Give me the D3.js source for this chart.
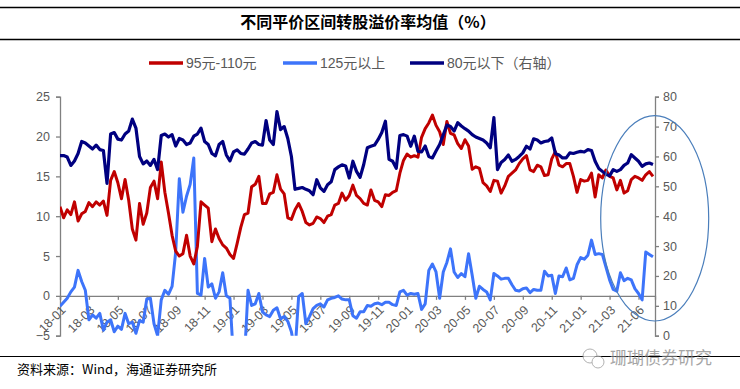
<!DOCTYPE html>
<html>
<head>
<meta charset="utf-8">
<script src="https://cdn.jsdelivr.net/npm/d3@7"></script>
<style>
  body { margin: 0; background: #fff; }
  svg { display: block; font-family: "Liberation Sans", Arial, "Noto Sans CJK SC", sans-serif; }
</style>
</head>
<body>
<div id="chart"></div>
<script>
const svgWidth = 740
const svgHeight = 389

// months since 2018-01, one point every quarter month
const step = 0.25
const tickMonths = [0, 2, 4, 6, 8, 10, 12, 14, 16, 18, 20, 22, 24, 26, 28, 30, 32, 34, 36, 38, 40]
const tickLabels = ["18-01","18-03","18-05","18-07","18-09","18-11","19-01","19-03","19-05","19-07","19-09","19-11",
                    "20-01","20-03","20-05","20-07","20-09","20-11","21-01","21-03","21-06"]
const leftTicks = [-5, 0, 5, 10, 15, 20, 25]
const rightTicks = [0, 10, 20, 30, 40, 50, 60, 70, 80]

// 95元-110元 (left axis)
const mid = [
  11.2, 9.8, 10.8, 10.2, 11.8, 9.4, 10.3, 10.6,
  11.7, 11.2, 11.8, 11.4, 11.9, 10.1, 14.5, 15.6,
  14.2, 12.2, 14.6, 12.0, 8.4, 7.0, 11.6, 9.0,
  10.4, 13.6, 14.4, 12.2, 16.8, 13.0, 10.4, 7.6,
  5.6, 5.0, 5.3, 7.6, 5.0, 4.0, 6.2, 11.8,
  11.4, 11.0, 6.8, 8.4, 7.2, 6.4, 6.0, 5.2,
  4.7, 6.6, 8.6, 10.2, 10.4, 13.7, 14.0, 15.0,
  11.6, 11.6, 12.8, 13.0, 15.2, 13.4, 12.8, 9.8,
  9.6, 10.8, 11.6, 10.6, 9.2, 8.9, 9.1, 9.9,
  9.7, 9.2, 10.0, 10.2, 11.4, 11.6, 12.9, 12.0,
  12.6, 13.9, 12.6, 12.2, 11.6, 11.4, 13.3, 12.0,
  11.8, 11.2, 12.7, 12.6, 13.0, 13.2, 15.4, 17.0,
  17.8, 17.4, 17.6, 17.4, 19.9, 21.0, 21.7, 22.7,
  21.4, 20.6, 19.0, 21.9, 20.4, 20.2, 19.1, 18.5,
  19.6, 18.8, 15.9, 16.2, 16.0, 14.2, 13.8, 13.1,
  14.5, 14.4, 12.9, 13.8, 15.0, 15.4, 15.8, 16.6,
  17.2, 17.6, 15.8, 15.6, 16.4, 16.2, 15.1, 15.2,
  17.2, 18.1, 16.4, 16.2, 16.6, 16.6, 15.0, 13.0,
  14.6, 14.4, 14.5, 15.4, 12.4, 15.2, 14.8, 15.8,
  15.0, 14.8, 13.3, 14.5, 12.9, 13.2, 14.6, 15.0,
  14.8, 14.5, 15.2, 15.6, 15.0
]

// 125元以上 (left axis), values below -5 run off the plot
const high = [
  -1.3, -0.8, -0.3, 0.5, 1.1, 3.2, 1.8, 0.7,
  -3.0, -2.4, -2.8, -2.2, -4.3, -3.3, -3.0, -4.5,
  -3.8, -4.2, -2.2, -3.5, -3.3, -4.7, -3.1, -3.3,
  -0.4, -0.3, -3.5, -5.0, -0.5, 0.7, 0.2, 1.2,
  5.5, 14.7, 10.5, 12.5, 14.0, 17.3, 0.3, 0.1,
  4.7, 1.1, 1.5, -0.3, 0.5, 2.9, 0.0, -0.3,
  -8, -8, -8, -8, 0.7, -1.2, -1.0, 0.3,
  -2.0, -2.4, -2.6, -1.8, -1.5, -2.9, -2.6, -3.2,
  -4.5, -7, -0.1, 0.3, -3.5, -2.6, -1.6, -1.2,
  -1.0, -1.4, -0.5, -0.3, -0.2, 0.0, -0.4, -0.5,
  -0.5, -2.5, -2.8, -2.0, -2.0, -1.2, -1.3, -1.0,
  -0.9, -1.1, -0.8, -0.8, -1.1, -1.2, 0.5, 0.7,
  0.1, 0.3, 0.2, 0.3, -1.7, -1.0, 3.2, 4.0,
  3.0, -0.3, 3.0, 4.2, 5.9, 3.0, 2.3, 2.8,
  2.4, 5.3, 2.6, -0.3, 1.2, 0.8, 0.5, -0.5,
  2.8, 2.5, 2.1, 2.2, 2.2, 1.4, 0.7, 0.6,
  0.9, 1.0, 0.4, 0.8, 0.7, 0.7, 3.1, 2.5,
  2.6, 0.3, 2.5, 2.4, 3.5, 2.0, 2.2, 3.9,
  4.8, 4.6, 5.1, 7.0, 5.2, 5.3, 5.2, 3.6,
  2.0, 0.8, 0.6, 2.9, 1.9, 2.2, 2.0, 0.9,
  0.3, -0.5, 5.5, 5.2, 4.9
]

// 80元以下 (right axis)
const low = [
  60.3, 60.3, 59.8, 57.0, 58.5, 61.0, 65.0, 64.5,
  63.5, 62.5, 63.8, 62.3, 62.0, 51.0, 67.5, 68.0,
  65.8, 65.5, 67.5, 68.5, 72.5, 69.5, 60.0, 57.5,
  58.5, 57.0, 59.0, 55.6, 67.0, 67.5, 66.5, 67.3,
  63.5, 66.0, 65.5, 64.0, 64.5, 66.8, 67.5, 69.5,
  65.0, 64.0, 61.0, 60.2, 64.0, 65.0, 60.5, 58.5,
  61.5, 62.2, 61.0, 60.8, 62.5, 64.5, 65.0, 64.0,
  63.8, 72.0, 65.5, 64.0, 75.0, 69.0, 70.0, 66.0,
  60.0, 49.0, 49.3, 49.6, 49.0, 48.5, 47.2, 52.2,
  49.5, 48.3, 50.5, 51.5, 55.6, 56.5, 57.2, 56.8,
  52.8, 58.4, 55.0, 53.0, 57.3, 62.9, 63.4, 63.8,
  65.7, 68.0, 71.8, 59.0, 58.4, 56.0, 67.0, 67.3,
  66.8, 63.4, 66.8, 61.7, 61.5, 63.5, 60.0, 59.5,
  61.8, 64.0, 67.2, 70.5, 70.0, 68.5, 71.3, 70.2,
  69.3, 68.5, 67.3, 66.5, 66.0, 65.5, 64.5, 62.9,
  73.0, 55.6, 58.0, 59.0, 60.5, 58.4, 59.0, 60.0,
  61.2, 63.4, 62.5, 65.9, 65.5, 64.5, 65.0, 65.2,
  66.2, 61.0, 60.5, 59.5, 59.5, 61.2, 61.0, 61.4,
  61.7, 61.5, 62.3, 62.0, 58.4, 56.0, 55.0, 54.0,
  53.5, 55.6, 55.0, 55.6, 57.0, 57.8, 60.6, 59.5,
  58.4, 56.7, 57.5, 57.8, 57.3
]

const colMid = "#C00000", colHigh = "#3D74FA", colLow = "#000080"
const axisGrey = "#808080", textGrey = "#595959"

const svg = d3.select("#chart").append("svg")
  .attr("width", svgWidth)
  .attr("height", svgHeight)

// title band
svg.append("line").attr("x1", 0).attr("x2", svgWidth).attr("y1", 7.5).attr("y2", 7.5)
  .attr("stroke", "#000").attr("stroke-width", 1.5)
svg.append("line").attr("x1", 0).attr("x2", svgWidth).attr("y1", 39.5).attr("y2", 39.5)
  .attr("stroke", "#000").attr("stroke-width", 1.5)
svg.append("text")
  .attr("x", 368).attr("y", 28)
  .attr("text-anchor", "middle")
  .attr("font-family", "'Noto Sans CJK SC', sans-serif")
  .attr("font-weight", "bold")
  .attr("font-size", "16px")
  .text("不同平价区间转股溢价率均值（%）")

var x = d3.scaleLinear().domain([0, 41.14]).range([60, 655])
var yL = d3.scaleLinear().domain([-5, 25]).range([335.7, 96.7])
var yR = d3.scaleLinear().domain([0, 80]).range([335.7, 96.7])

svg.append("clipPath").attr("id", "plot")
  .append("rect").attr("x", 60).attr("y", 90).attr("width", 595).attr("height", 245.7)

// axes
var leftAxis = d3.axisLeft(yL).tickValues(leftTicks).tickSize(4).tickPadding(6)
var gl = svg.append("g").attr("transform", "translate(60,0)").call(leftAxis)
var rightAxis = d3.axisRight(yR).tickValues(rightTicks).tickSize(4).tickPadding(4)
var gr = svg.append("g").attr("transform", "translate(655,0)").call(rightAxis)
var bottomAxis = d3.axisBottom(x).tickValues(tickMonths).tickSize(4).tickFormat((d, i) => tickLabels[i])
var gb = svg.append("g").attr("transform", "translate(0," + yL(0) + ")").call(bottomAxis)

for (let g of [gl, gr, gb]) {
  g.select(".domain").attr("stroke", axisGrey).attr("stroke-width", 1.3)
  g.selectAll(".tick line").attr("stroke", axisGrey).attr("stroke-width", 1.3)
  g.selectAll("text").attr("fill", textGrey).attr("font-size", "12.5px")
    .attr("font-family", "'Liberation Sans', Arial, sans-serif")
}
gb.selectAll("text")
  .attr("text-anchor", "end")
  .attr("dy", null)
  .attr("y", 0)
  .attr("transform", "translate(6,15) rotate(-45)")

// lines
var lineL = d3.line().x((d, i) => x(i * step)).y(d => yL(d))
var lineR = d3.line().x((d, i) => x(i * step)).y(d => yR(d))
var plot = svg.append("g").attr("clip-path", "url(#plot)")
plot.append("path").datum(high).attr("d", lineL)
  .attr("fill", "none").attr("stroke", colHigh).attr("stroke-width", 3).attr("stroke-linejoin", "round")
plot.append("path").datum(mid).attr("d", lineL)
  .attr("fill", "none").attr("stroke", colMid).attr("stroke-width", 3).attr("stroke-linejoin", "round")
plot.append("path").datum(low).attr("d", lineR)
  .attr("fill", "none").attr("stroke", colLow).attr("stroke-width", 3.2).attr("stroke-linejoin", "round")

// legend
const legendItems = [
  { label: "95元-110元", color: colMid, x: 149 },
  { label: "125元以上", color: colHigh, x: 283 },
  { label: "80元以下（右轴）", color: colLow, x: 410 }
]
var lg = svg.append("g").selectAll("g").data(legendItems).enter().append("g")
  .attr("transform", d => "translate(" + d.x + ",63)")
lg.append("line").attr("x1", 0).attr("x2", 34).attr("stroke", d => d.color).attr("stroke-width", 3.5)
lg.append("text").attr("x", 37).attr("y", 5)
  .attr("fill", textGrey).attr("font-size", "14px")
  .text(d => d.label)

// highlight ellipse
svg.append("ellipse")
  .attr("cx", 654.7).attr("cy", 218.3).attr("rx", 54).attr("ry", 102.7)
  .attr("fill", "none").attr("stroke", "#4A7EBB").attr("stroke-width", 1.2)

// footer
svg.append("line").attr("x1", 0).attr("x2", svgWidth).attr("y1", 356.5).attr("y2", 356.5)
  .attr("stroke", "#000").attr("stroke-width", 1.2)
svg.append("text").attr("x", 17).attr("y", 374)
  .attr("font-size", "13px").attr("fill", "#000")
  .attr("font-family", "'Noto Sans CJK SC', sans-serif")
  .text("资料来源：Wind，海通证券研究所")

var wm = svg.append("g").attr("transform", "translate(582,357)").attr("opacity", 0.75)
wm.append("circle").attr("cx", 8).attr("cy", -1).attr("r", 7).attr("fill", "#fff").attr("stroke", "#999")
wm.append("circle").attr("cx", 16).attr("cy", 5).attr("r", 6).attr("fill", "#fff").attr("stroke", "#999")
wm.append("text").attr("x", 28).attr("y", 7)
  .attr("font-size", "17px").attr("fill", "#888")
  .attr("font-family", "'Noto Sans CJK SC', sans-serif")
  .text("珊瑚债券研究")
</script>
</body>
</html>
